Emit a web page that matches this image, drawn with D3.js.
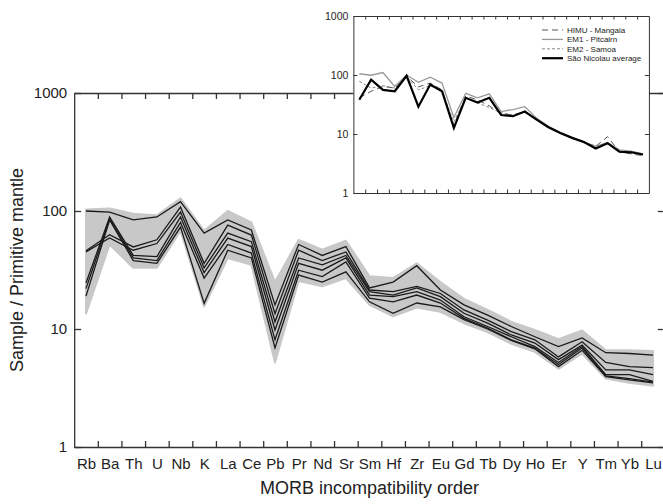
<!DOCTYPE html>
<html>
<head>
<meta charset="utf-8">
<script src="https://cdn.jsdelivr.net/npm/d3@7"></script>
<style>
body{margin:0;background:#fff;}
svg{display:block;font-family:"Liberation Sans",Arial,sans-serif;}
</style>
</head>
<body>
<div id="chartContainer"></div>
<script>
// element order (MORB incompatibility)
var elements = ["Rb","Ba","Th","U","Nb","K","La","Ce","Pb","Pr","Nd","Sr","Sm","Hf","Zr","Eu","Gd","Tb","Dy","Ho","Er","Y","Tm","Yb","Lu"];
var decadeTicks = [1, 10, 100, 1000];

// grey envelope
var bandTop    = [103,105,95,92,128,68,100,80,25,57,47,56,28,27,36,25,18,14.5,11.5,9.8,8.2,9.7,6.6,6.6,6.5];
var bandBottom = [13.5,52,33,33,68,15.5,40,35,5.2,25.5,23,27,16,12.8,15.2,14,11.2,9.4,7.5,6.4,4.6,6.2,3.8,3.5,3.3];

// Sao Nicolau samples
var sample1 = [100,98,84,89,120,65,84,69,16,52,42,50,22.3,25,34.4,21.4,16,13.1,10.5,8.6,7.1,8.4,6.3,6.2,6.0];
var sample2 = [46,63,49.6,57,108,36,76,62.5,13.5,46.5,38,45,21.4,20.7,23,20,14.5,11.9,9.5,8.1,5.8,7.8,5.2,4.8,4.7];
var sample3 = [45,59,46.5,53,98,33,65,55,11.5,40,35,42,20.7,19.4,22.3,18.8,13.6,11.2,8.9,7.6,5.5,7.3,4.5,4.5,4.1];
var sample4 = [24.5,89,42,41,89,30,59,50,9.8,36,31.5,40,19.4,18.8,20.7,17.6,12.7,10.5,8.6,7.1,5.2,7.1,4.1,4.1,3.6];
var sample5 = [22,86,40,38,80,27,52,44,8.1,31.5,27.8,37,18.3,17,19.4,16.6,12.3,10.2,8.1,6.9,5.0,6.9,4.0,3.8,3.55];
var sample6 = [19,84,38,36,73,16.5,46.5,40,6.9,28.6,25,30.5,17,13.6,16.6,15.4,12.0,10.0,8.0,6.8,4.8,6.6,3.95,3.7,3.5];

// inset: OIB end members + average
var himu = [41,53,64,60,95,63,73,56,14,44,38,30,22,21,24,18,13,10.4,8.6,7.2,6.2,9.0,5.0,4.6,4.3];
var em1  = [105,99,110,64,100,75,92,73,19,49,41,48,24,26,29,18.6,13.5,10.7,8.8,7.3,6.2,7.2,5.4,5.1,4.6];
var em2  = [78,60,66,60,93,56,66,53,16,42,34,28,23,21,24,17.6,13,10.4,8.4,7.1,6.3,6.8,5.2,4.7,4.5];
var saoNicolau = [38,83,56,53,97,29,69,53,12.6,41,34,41,21,20,24,17.5,13,10.4,8.6,7.3,5.7,7.0,5.0,4.9,4.5];

var legendNames = ["HIMU - Mangaia","EM1 - Pitcairn","EM2 - Samoa","São Nicolau average"];

var W = 663, H = 504;
var svg = d3.select("#chartContainer").append("svg")
    .attr("width", W).attr("height", H);

// ---------- main chart ----------
var x = d3.scalePoint().domain(elements).range([86, 653]);
var step = x.step();
var frameL = x("Rb") - step / 2, frameR = x("Lu") + step / 2;
var y = d3.scaleLog().domain([1, 1000]).range([447, 93]);
var mids = d3.range(0.5, elements.length - 1, 1);

var main = svg.append("g");

var area = d3.area()
    .x(function(d, i){ return x(elements[i]); })
    .y0(function(d, i){ return y(bandBottom[i]); })
    .y1(function(d){ return y(d); });

main.append("path")
    .datum(bandTop)
    .attr("d", area)
    .attr("fill", "#c8c8c8")
    .attr("stroke", "#c8c8c8")
    .attr("stroke-width", 2)
    .attr("stroke-linejoin", "round");

var line = d3.line()
    .x(function(d, i){ return x(elements[i]); })
    .y(function(d){ return y(d); });

main.selectAll(".sample")
    .data([sample1, sample2, sample3, sample4, sample5, sample6])
    .join("path")
    .attr("class", "sample")
    .attr("d", line)
    .attr("fill", "none")
    .attr("stroke", "#1a1a1a")
    .attr("stroke-width", 1.3)
    .attr("stroke-linejoin", "miter");

// frame scale for ticks between elements
var xf = d3.scaleLinear().domain([-0.5, elements.length - 0.5]).range([frameL, frameR]);

function styleAxis(g){
    g.selectAll("path, line").attr("stroke", "#333").attr("stroke-width", 1.3);
    g.selectAll("text").attr("fill", "#222");
}

main.append("g")
    .attr("transform", "translate(0,447)")
    .call(d3.axisBottom(xf).tickValues(mids).tickSizeInner(-6).tickSizeOuter(0).tickFormat(""))
    .call(styleAxis);
main.append("g")
    .attr("transform", "translate(0,93)")
    .call(d3.axisTop(xf).tickValues(mids).tickSizeInner(-6).tickSizeOuter(0).tickFormat(""))
    .call(styleAxis);

// element labels
main.append("g")
    .attr("transform", "translate(0,447)")
    .call(d3.axisBottom(x).tickSize(0).tickPadding(11))
    .call(function(g){
        g.select(".domain").remove();
        g.selectAll("text").attr("font-size", 15).attr("font-family", null).attr("fill", "#222");
    });

main.append("g")
    .attr("transform", "translate(" + frameL + ",0)")
    .call(d3.axisLeft(y).tickValues(decadeTicks).tickSizeInner(-7).tickSizeOuter(0).tickPadding(7).tickFormat(d3.format("d")))
    .call(styleAxis)
    .call(function(g){ g.selectAll("text").attr("font-size", 15).attr("font-family", null); });
main.append("g")
    .attr("transform", "translate(" + frameR + ",0)")
    .call(d3.axisRight(y).tickValues(decadeTicks).tickSizeInner(-7).tickSizeOuter(0).tickFormat(""))
    .call(styleAxis);

main.append("text")
    .attr("x", (frameL + frameR) / 2)
    .attr("y", 494)
    .attr("text-anchor", "middle")
    .attr("font-size", 18)
    .attr("fill", "#222")
    .text("MORB incompatibility order");

main.append("text")
    .attr("transform", "translate(23," + (y(1) + y(1000)) / 2 + ") rotate(-90)")
    .attr("text-anchor", "middle")
    .attr("font-size", 18)
    .attr("fill", "#222")
    .text("Sample / Primitive mantle");

// ---------- inset ----------
var ix = d3.scalePoint().domain(elements).range([359.3, 643]);
var istep = ix.step();
var iL = ix("Rb") - istep / 2, iR = ix("Lu") + istep / 2;
var iy = d3.scaleLog().domain([1, 1000]).range([193, 16]);
var ixf = d3.scaleLinear().domain([-0.5, elements.length - 0.5]).range([iL, iR]);

var inset = svg.append("g");

inset.append("rect")
    .attr("x", iL).attr("y", iy(1000))
    .attr("width", iR - iL).attr("height", iy(1) - iy(1000))
    .attr("fill", "#fff");

function styleInset(g){
    g.selectAll("path, line").attr("stroke", "#333").attr("stroke-width", 1);
    g.selectAll("text").attr("fill", "#222").attr("font-size", 10.5).attr("font-family", null);
}

inset.append("g")
    .attr("transform", "translate(0," + iy(1) + ")")
    .call(d3.axisBottom(ixf).tickValues(mids).tickSizeInner(-3.5).tickSizeOuter(0).tickFormat(""))
    .call(styleInset);
inset.append("g")
    .attr("transform", "translate(0," + iy(1000) + ")")
    .call(d3.axisTop(ixf).tickValues(mids).tickSizeInner(-3.5).tickSizeOuter(0).tickFormat(""))
    .call(styleInset);
inset.append("g")
    .attr("transform", "translate(" + iL + ",0)")
    .call(d3.axisLeft(iy).tickValues(decadeTicks).tickSizeInner(-4).tickSizeOuter(0).tickPadding(5).tickFormat(d3.format("d")))
    .call(styleInset);
inset.append("g")
    .attr("transform", "translate(" + iR + ",0)")
    .call(d3.axisRight(iy).tickValues(decadeTicks).tickSizeInner(-4).tickSizeOuter(0).tickFormat(""))
    .call(styleInset);

var iline = d3.line()
    .x(function(d, i){ return ix(elements[i]); })
    .y(function(d){ return iy(d); });

var insetSeries = [
    {name: legendNames[1], values: em1, color: "#9a9a9a", width: 1.3, dash: null},
    {name: legendNames[0], values: himu, color: "#555", width: 1, dash: "6,4"},
    {name: legendNames[2], values: em2, color: "#888", width: 1, dash: "3,2"},
    {name: legendNames[3], values: saoNicolau, color: "#000", width: 2.2, dash: null}
];

inset.selectAll(".oib")
    .data(insetSeries)
    .join("path")
    .attr("class", "oib")
    .attr("d", function(d){ return iline(d.values); })
    .attr("fill", "none")
    .attr("stroke", function(d){ return d.color; })
    .attr("stroke-width", function(d){ return d.width; })
    .attr("stroke-dasharray", function(d){ return d.dash; });

// legend, in the order of the original
var legendOrder = [insetSeries[1], insetSeries[0], insetSeries[2], insetSeries[3]];
var legend = inset.append("g").attr("transform", "translate(542,30)");
var rows = legend.selectAll("g")
    .data(legendOrder)
    .join("g")
    .attr("transform", function(d, i){ return "translate(0," + (i * 9.4) + ")"; });
rows.append("line")
    .attr("x1", 0).attr("x2", 21)
    .attr("stroke", function(d){ return d.color; })
    .attr("stroke-width", function(d){ return d.width; })
    .attr("stroke-dasharray", function(d){ return d.dash; });
rows.append("text")
    .attr("x", 25)
    .attr("dy", "0.35em")
    .attr("font-size", 8)
    .attr("fill", "#222")
    .text(function(d){ return d.name; });
</script>
</body>
</html>
